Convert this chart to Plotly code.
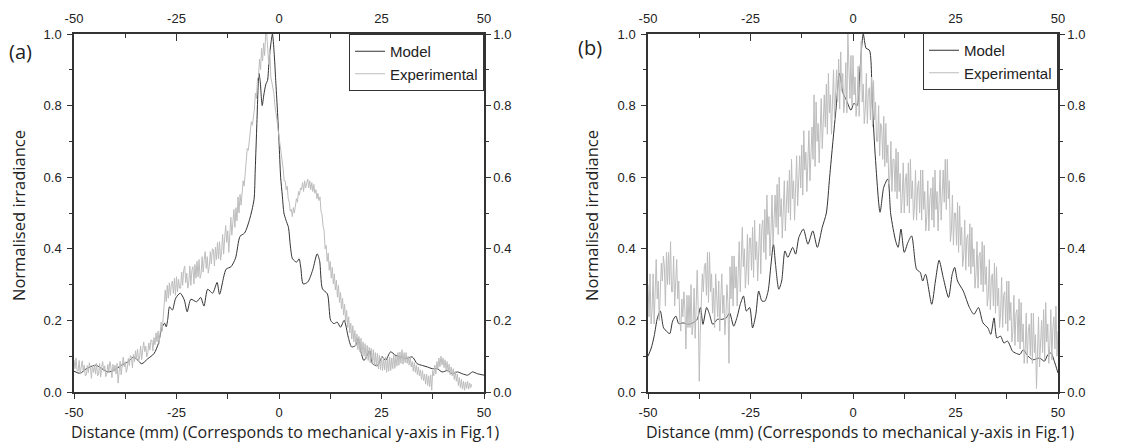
import numpy as np
import plotly.graph_objects as go

# ---- data ----
tick_x = [-50, -25, 0, 25, 50]
tick_x_text = ['-50', '-25', '0', '25', '50']
minor_x = [-37.5, -12.5, 12.5, 37.5]
tick_y = [0.0, 0.2, 0.4, 0.6, 0.8, 1.0]
tick_y_text = ['0.0', '0.2', '0.4', '0.6', '0.8', '1.0']
minor_y = [0.1, 0.3, 0.5, 0.7, 0.9]

# panel (a) model
model_a_x = [-50, -48.5, -47, -44.7, -43.2, -41.7, -40.2, -38.4, -36.9, -35.4,
             -33.5, -32.0, -30.5, -29.4, -28.6, -27.9, -27.5, -27.1, -26.7, -26.0,
             -25.2, -24.1, -23.1, -22.4, -21.5, -20.1, -19.1, -18.3, -17.4, -16.2,
             -15.1, -14.5, -12.9, -11.7, -10.6, -9.5, -8.4, -7.2, -6.1, -5.8,
             -5.4, -5.1, -4.9, -4.6, -4.1, -3.7, -3.2, -2.8, -2.4, -1.9,
             -1.6, -1.2, -0.8, -0.4, 0.0, 0.4, 0.8, 1.2, 1.7, 2.3,
             2.8, 3.3, 4.3, 4.9, 5.3, 5.9, 7.0, 8.2, 9.3, 9.9,
             10.6, 11.8, 12.6, 13.4, 14.2, 15.0, 15.9, 16.9, 17.7, 18.7,
             19.3, 19.9, 20.7, 21.5, 22.1, 22.8, 24.0, 25.2, 26.0, 27.2,
             28.5, 29.7, 30.9, 32.5, 33.7, 35.0, 36.2, 37.4, 38.6, 39.8,
             41.1, 42.3, 43.5, 44.7, 46.0, 47.2, 48.4, 50]
model_a_y = [0.058, 0.052, 0.065, 0.075, 0.065, 0.056, 0.061, 0.075, 0.084, 0.098,
             0.079, 0.093, 0.107, 0.136, 0.178, 0.192, 0.182, 0.206, 0.238, 0.229,
             0.262, 0.276, 0.257, 0.224, 0.259, 0.252, 0.264, 0.240, 0.287, 0.276,
             0.306, 0.273, 0.343, 0.350, 0.374, 0.435, 0.444, 0.481, 0.537, 0.620,
             0.750, 0.850, 0.890, 0.870, 0.800, 0.830, 0.860, 0.870, 0.930, 0.980,
             1.000, 0.950, 0.870, 0.790, 0.700, 0.600, 0.550, 0.500, 0.480, 0.460,
             0.405, 0.372, 0.363, 0.372, 0.349, 0.302, 0.307, 0.340, 0.386, 0.367,
             0.288, 0.274, 0.200, 0.191, 0.195, 0.181, 0.200, 0.153, 0.126, 0.130,
             0.149, 0.116, 0.088, 0.102, 0.116, 0.079, 0.074, 0.098, 0.088, 0.112,
             0.102, 0.098, 0.093, 0.098, 0.079, 0.074, 0.070, 0.065, 0.065, 0.056,
             0.060, 0.051, 0.056, 0.051, 0.047, 0.056, 0.051, 0.047]

# panel (a) experimental, one reading every 0.25 mm from -50 to 47 (each chunk of 4 = 1 mm)
exp_a_x = np.arange(-50, 47.001, 0.25)
exp_a_y = [
    .090, .065, .095, .060,  .058, .088, .050, .078,  .087, .060, .075, .045,
    .047, .074, .054, .082,  .068, .038, .075, .055,  .075, .050, .080, .045,
    .050, .080, .042, .070,  .085, .058, .073, .043,  .050, .077, .057, .085,
    .070, .040, .077, .057,  .075, .050, .080, .025,  .056, .086, .048, .076,
    .097, .070, .085, .055,  .067, .094, .074, .102,  .098, .068, .105, .085,
    .115, .090, .120, .085,  .098, .128, .090, .118,  .140, .113, .128, .098,
    .110, .137, .117, .145,  .145, .115, .152, .132,  .165, .140, .170, .135,
    .163, .195, .170, .228,  .245, .285, .252, .298,  .262, .305, .270, .300,
    .310, .275, .318, .270,  .322, .280, .315, .290,  .290, .335, .298, .340,
    .352, .305, .332, .290,  .305, .352, .298, .340,  .350, .302, .356, .318,
    .365, .322, .370, .318,  .330, .378, .335, .368,  .392, .345, .378, .332,
    .350, .392, .358, .400,  .398, .352, .405, .370,  .418, .372, .420, .368,
    .392, .440, .385, .430,  .465, .418, .450, .390,  .442, .488, .438, .490,
    .510, .460, .515, .478,  .545, .500, .552, .522,  .560, .590, .575, .610,
    .650, .680, .675, .710,  .725, .755, .745, .770,  .790, .835, .820, .875,
    .880, .930, .900, .960,  .925, .975, .940, 1.00,  1.00, .960, .915, .955,
    .880, .865, .845, .835,  .800, .770, .760, .735,  .715, .680, .670, .640,
    .625, .590, .590, .565,  .575, .540, .530, .505,  .510, .490, .515, .500,
    .525, .540, .530, .560,  .550, .570, .565, .585,  .560, .590, .570, .585,
    .595, .570, .590, .565,  .585, .560, .580, .555,  .565, .540, .555, .535,
    .545, .505, .495, .462,  .452, .400, .410, .365,  .388, .340, .365, .318,
    .348, .302, .330, .285,  .312, .265, .298, .250,  .278, .232, .262, .215,
    .245, .195, .228, .180,  .210, .165, .192, .148,  .185, .140, .172, .128,
    .162, .118, .155, .112,  .150, .105, .140, .100,  .135, .092, .130, .088,
    .125, .082, .122, .080,  .118, .075, .110, .070,  .108, .065, .102, .062,
    .100, .060, .095, .062,  .098, .055, .092, .058,  .098, .060, .095, .065,
    .105, .066, .100, .072,  .110, .075, .112, .080,  .118, .078, .110, .082,
    .110, .080, .100, .075,  .098, .070, .085, .058,  .082, .055, .075, .048,
    .070, .045, .062, .035,  .060, .032, .050, .022,  .050, .018, .045, .015,
    .048, .005, .060, .045,  .075, .050, .085, .065,  .095, .070, .100, .075,
    .095, .068, .090, .060,  .085, .055, .078, .048,  .070, .045, .065, .035,
    .058, .030, .050, .018,  .040, .012, .035, .008,  .030, .005, .028, .010,
    .030, .008, .025, .012,
    .022]

# panel (b) model
model_b_x = [-50, -49.2, -48.5, -47.7, -47.0, -46.2, -45.5, -44.7, -44.0, -43.2,
             -42.5, -41.4, -40.2, -39.1, -38.0, -37.2, -36.6, -35.7, -35.0, -34.2,
             -33.1, -32.0, -30.9, -30.1, -29.1, -28.2, -27.5, -26.7, -26.0, -25.2,
             -24.5, -23.7, -23.0, -22.2, -21.5, -20.7, -20.0, -19.4, -18.9, -18.1,
             -17.4, -16.6, -15.9, -14.7, -14.0, -13.2, -12.1, -11.0, -9.8, -8.7,
             -7.5, -6.5, -5.7, -4.9, -4.1, -3.3, -2.4, -1.6, -0.5, 0.2,
             1.0, 1.7, 2.5, 3.2, 4.0, 4.7, 5.5, 6.6, 7.5, 8.5,
             9.2, 10.4, 11.0, 11.7, 12.5, 13.4, 14.3, 15.5, 16.4, 17.0,
             17.7, 19.2, 20.1, 21.0, 22.0, 23.3, 24.2, 24.8, 25.5, 26.9,
             28.4, 29.5, 30.6, 31.7, 32.9, 33.6, 34.4, 35.1, 36.0, 36.8,
             37.7, 38.9, 39.6, 40.7, 41.5, 42.7, 43.9, 45.5, 46.7, 47.5,
             48.3, 49.1, 50]
model_b_y = [0.100, 0.123, 0.156, 0.207, 0.226, 0.179, 0.170, 0.163, 0.198, 0.212,
             0.191, 0.193, 0.189, 0.193, 0.203, 0.236, 0.189, 0.236, 0.217, 0.189,
             0.203, 0.203, 0.207, 0.221, 0.184, 0.212, 0.245, 0.268, 0.226, 0.236,
             0.179, 0.217, 0.282, 0.254, 0.254, 0.282, 0.357, 0.413, 0.357, 0.287,
             0.310, 0.394, 0.376, 0.404, 0.385, 0.432, 0.455, 0.413, 0.450, 0.404,
             0.460, 0.500, 0.600, 0.700, 0.795, 0.890, 0.834, 0.815, 0.787, 0.806,
             0.800, 0.900, 1.000, 0.960, 0.955, 0.806, 0.647, 0.502, 0.572, 0.595,
             0.497, 0.422, 0.404, 0.455, 0.390, 0.418, 0.436, 0.343, 0.334, 0.310,
             0.329, 0.245, 0.310, 0.368, 0.320, 0.264, 0.329, 0.348, 0.310, 0.282,
             0.236, 0.217, 0.236, 0.193, 0.179, 0.161, 0.207, 0.151, 0.156, 0.137,
             0.142, 0.114, 0.109, 0.105, 0.118, 0.100, 0.090, 0.095, 0.086, 0.104,
             0.109, 0.086, 0.053]

# panel (b) experimental, one reading every 0.25 mm from -50 to 50
exp_b_x = np.arange(-50, 50.001, 0.25)
exp_b_y = [
    .30, .21, .33, .19,  .23, .33, .19, .28,  .37, .26, .31, .20,  .27, .36, .31, .38,
    .35, .24, .39, .30,  .39, .30, .42, .28,  .28, .38, .24, .33,  .37, .26, .31, .20,
    .17, .26, .21, .28,  .23, .12, .27, .18,  .27, .18, .30, .16,  .19, .29, .15, .24,
    .34, .23, .03, .17,  .24, .33, .28, .35,  .36, .27, .39, .25,  .39, .28, .33, .22,
    .29, .18, .33, .24,  .21, .31, .17, .26,  .33, .22, .27, .16,  .21, .30, .25, .08,
    .35, .26, .38, .24,  .38, .29, .35, .24,  .32, .42, .28, .37,  .46, .35, .40, .29,
    .34, .44, .30, .43,  .43, .34, .46, .32,  .48, .37, .42, .31,  .37, .47, .33, .46,
    .48, .39, .51, .37,  .55, .44, .49, .38,  .45, .55, .41, .50,  .55, .46, .58, .44,
    .60, .49, .54, .43,  .50, .59, .45, .55,  .59, .50, .62, .48,  .65, .54, .59, .48,
    .56, .66, .52, .61,  .66, .57, .69, .55,  .73, .62, .67, .56,  .63, .73, .59, .68,
    .74, .65, .83, .63,  .81, .70, .75, .64,  .72, .82, .68, .77,  .83, .74, .86, .72,
    .89, .78, .83, .72,  .80, .90, .76, .85,  .90, .81, .93, .79,  .95, .84, .89, .78,
    .82, .92, .78, 1.0,  .91, .82, .94, .80,  .94, .83, .88, .77,  .81, .91, .77, .86,
    .98, .81, .86, .75,  .79, .89, .75, .84,  .85, .76, .88, .74,  .87, .76, .81, .70,
    .70, .80, .66, .75,  .74, .65, .77, .63,  .75, .64, .69, .58,  .60, .70, .56, .65,
    .65, .56, .68, .54,  .67, .56, .61, .50,  .54, .64, .50, .59,  .61, .52, .64, .50,
    .65, .54, .59, .48,  .52, .62, .48, .57,  .59, .50, .62, .48,  .62, .51, .56, .45,
    .49, .59, .45, .54,  .57, .48, .60, .46,  .62, .51, .56, .45,  .52, .62, .48, .57,
    .62, .53, .65, .51,  .65, .54, .59, .42,  .45, .55, .41, .50,  .50, .41, .53, .39,
    .52, .41, .46, .35,  .38, .48, .34, .43,  .44, .35, .47, .33,  .46, .35, .40, .29,
    .33, .42, .29, .38,  .39, .30, .42, .28,  .41, .30, .35, .24,  .27, .37, .23, .32,
    .33, .24, .36, .22,  .35, .24, .29, .18,  .22, .32, .18, .27,  .28, .19, .31, .17,
    .31, .20, .25, .14,  .17, .27, .13, .22,  .23, .14, .26, .12,  .25, .14, .19, .08,
    .12, .22, .08, .17,  .19, .10, .22, .08,  .22, .11, .16, .01,  .11, .21, .07, .16,
    .20, .11, .23, .09,  .25, .14, .19, .08,  .13, .23, .09, .18,  .21, .12, .24, .10,
    .17]

assert len(exp_a_y) == len(exp_a_x), (len(exp_a_y), len(exp_a_x))
assert len(exp_b_y) == len(exp_b_x), (len(exp_b_y), len(exp_b_x))
assert len(model_a_x) == len(model_a_y) and len(model_b_x) == len(model_b_y)

# the page body keeps its default 8px margin, so the figure is drawn 8px
# smaller and every reference pixel position is shifted by that amount
OFF = 8
W, H = 1132 - OFF, 447 - OFF
INK = '#333333'
GREY = '#bdbdbd'
TICKFONT = dict(family='Liberation Sans, Arial', size=13, color='#222222')
XTITLEFONT = dict(family='Open Sans', size=16, color='#222222')
YTITLEFONT = dict(family='Open Sans', size=16.5, color='#222222')

def px_x(p):
    return (p - OFF) / W

def px_y(p):
    return 1 - (p - OFF) / H

fig = go.Figure()

# model drawn first so the grey data sits on top, as in the original
fig.add_trace(go.Scatter(x=model_a_x, y=model_a_y, name='Model', mode='lines',
                         line=dict(color=INK, width=1, shape='spline', smoothing=0.7),
                         xaxis='x', yaxis='y', legend='legend'))
fig.add_trace(go.Scatter(x=exp_a_x, y=exp_a_y, name='Experimental', mode='lines',
                         line=dict(color=GREY, width=1),
                         xaxis='x', yaxis='y', legend='legend'))
fig.add_trace(go.Scatter(x=model_b_x, y=model_b_y, name='Model', mode='lines',
                         line=dict(color=INK, width=1, shape='spline', smoothing=0.7),
                         xaxis='x2', yaxis='y2', legend='legend2'))
fig.add_trace(go.Scatter(x=exp_b_x, y=exp_b_y, name='Experimental', mode='lines',
                         line=dict(color=GREY, width=1),
                         xaxis='x2', yaxis='y2', legend='legend2'))

# empty traces so the mirrored top / right axes get drawn
for xa, ya in [('x3', 'y3'), ('x4', 'y4')]:
    fig.add_trace(go.Scatter(x=[None], y=[None], xaxis=xa, yaxis=ya,
                             showlegend=False, hoverinfo='skip'))

ydom = [px_y(392), px_y(34)]
xdoms = [[px_x(74), px_x(484)], [px_x(648), px_x(1058)]]

def xaxis(dom, anchor, side='bottom', overlay=None):
    ticks = 'outside' if side == 'bottom' else 'inside'
    d = dict(range=[-50, 50], tickmode='array', tickvals=tick_x, ticktext=tick_x_text,
             ticks=ticks, ticklen=5 if side == 'bottom' else 7, tickwidth=1, tickcolor=INK,
             minor=dict(tickmode='array', tickvals=minor_x, ticks=ticks,
                        ticklen=5 if side == 'bottom' else 4, tickcolor=INK),
             ticklabelstandoff=3 if side == 'bottom' else 4,
             showline=True, linecolor=INK, linewidth=1.5, showgrid=False, zeroline=False,
             tickfont=TICKFONT, anchor=anchor, side=side, fixedrange=True, automargin=False)
    if overlay:
        d['overlaying'] = overlay
    else:
        d['domain'] = dom
    return d

def yaxis(anchor, side='left', overlay=None):
    d = dict(range=[0, 1], tickmode='array', tickvals=tick_y, ticktext=tick_y_text,
             ticks='outside', ticklen=5, tickwidth=1, tickcolor=INK,
             minor=dict(tickmode='array', tickvals=minor_y, ticks='outside',
                        ticklen=3, tickcolor=INK),
             ticklabelstandoff=3 if side == 'left' else 0,
             showline=True, linecolor=INK, linewidth=1.5, showgrid=False, zeroline=False,
             tickfont=TICKFONT, anchor=anchor, side=side, fixedrange=True, automargin=False)
    if overlay:
        d['overlaying'] = overlay
    else:
        d['domain'] = ydom
    return d

legend_style = dict(bgcolor='white', bordercolor=INK, borderwidth=1,
                    font=dict(family='Liberation Sans, Arial', size=15, color='#222222'),
                    xanchor='right', yanchor='top', itemwidth=30, tracegroupgap=0)

fig.update_layout(
    width=W, height=H,
    margin=dict(l=0, r=0, t=0, b=0),
    paper_bgcolor='white', plot_bgcolor='white',
    xaxis=xaxis(xdoms[0], 'y'),
    xaxis2=xaxis(xdoms[1], 'y2'),
    xaxis3=xaxis(None, 'y', side='top', overlay='x'),
    xaxis4=xaxis(None, 'y2', side='top', overlay='x2'),
    yaxis=yaxis('x'),
    yaxis2=yaxis('x2'),
    yaxis3=yaxis('x', side='right', overlay='y'),
    yaxis4=yaxis('x2', side='right', overlay='y2'),
    legend=dict(x=px_x(484), y=px_y(34), **legend_style),
    legend2=dict(x=px_x(1058), y=px_y(33), **legend_style),
)

notes = [
    dict(text='(a)', x=px_x(20), y=px_y(51), font=dict(family='Open Sans', size=20, color='#222222')),
    dict(text='(b)', x=px_x(590), y=px_y(47), font=dict(family='Open Sans', size=20, color='#222222')),
    dict(text='Normalised irradiance', x=px_x(18), y=px_y(216), textangle=-90, font=YTITLEFONT),
    dict(text='Normalised irradiance', x=px_x(591), y=px_y(216), textangle=-90, font=YTITLEFONT),
    dict(text='Distance (mm) (Corresponds to mechanical y-axis in Fig.1)',
         x=px_x(285), y=px_y(432), font=XTITLEFONT),
    dict(text='Distance (mm) (Corresponds to mechanical y-axis in Fig.1)',
         x=px_x(860), y=px_y(432), font=XTITLEFONT),
]
for n in notes:
    fig.add_annotation(xref='paper', yref='paper', showarrow=False,
                       xanchor='center', yanchor='middle', **n)

fig.write_html("out.html")
